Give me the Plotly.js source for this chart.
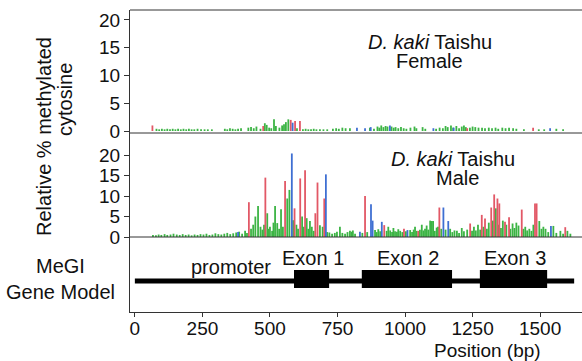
<!DOCTYPE html>
<html>
<head>
<meta charset="utf-8">
<script src="https://cdn.plot.ly/plotly-3.0.1.min.js"></script>
<style>html,body{margin:0;padding:0;background:#fff;}#chart{width:582px;height:361px;}</style>
</head>
<body>
<div id="chart"></div>
<script>
// ---- Data (positions in bp, values in relative % methylated cytosine) ----
const femaleGreenPos = [80,90,100,110,120,130,140,150,160,170,180,190,200,210,220,232,245,258,270,285,333,342,352,362,372,382,393,420,430,440,450,465,481,488,497,505,515,522,535,545,552,559,568,600,622,632,642,652,662,672,685,698,712,733,745,755,768,780,796,870,885,898,905,912,920,928,935,950,958,965,975,985,995,1005,1020,1035,1042,1065,1075,1115,1128,1140,1150,1158,1170,1178,1190,1200,1210,1218,1225,1240,1250,1260,1272,1285,1296,1310,1322,1335,1345,1360,1372,1385,1400,1412,1440,1495,1515,1560,1585];
const femaleGreenVal = [0.4,0.3,0.4,0.3,0.4,0.3,0.4,0.3,0.4,0.3,0.4,0.3,0.4,0.3,0.3,0.4,0.3,0.3,0.3,0.3,0.4,0.3,0.5,0.4,0.3,0.4,0.5,0.6,0.7,0.5,0.8,0.4,1.4,1.1,0.6,0.5,2.1,0.9,0.6,1.0,1.2,1.6,2.1,0.5,0.3,0.4,0.3,0.3,0.4,0.3,0.3,0.3,0.3,0.4,0.5,0.4,0.6,0.5,0.5,0.6,0.4,0.8,0.6,1.0,0.7,0.9,0.8,0.8,0.6,0.7,0.5,0.7,0.5,0.4,0.6,0.8,0.5,0.7,0.4,0.4,0.6,0.5,0.9,0.7,1.0,0.6,0.9,0.5,0.8,1.0,0.7,0.6,0.8,0.7,0.6,0.6,0.5,0.6,0.5,0.6,0.4,0.6,0.5,0.6,0.5,0.4,0.3,0.3,0.3,0.4,0.3];
const femaleRedPos = [65,475,577,593,611,1230,1474];
const femaleRedVal = [1.0,0.9,2.0,1.8,1.8,0.5,0.6];
const femaleBluePos = [584,822,852,873,944,1105,1180,1537];
const femaleBlueVal = [1.5,0.6,0.5,0.7,1.0,0.5,0.6,0.5];

const maleGreenPos = [67,78,88,98,110,120,132,143,155,166,177,188,199,210,221,232,243,254,265,276,287,298,309,320,331,342,353,364,375,386,397,408,415,430,438,446,456,465,472,478,490,495,500,508,513,519,527,534,541,548,564,572,586,598,604,619,625,636,642,648,655,662,685,695,712,720,730,740,748,759,768,778,787,796,802,807,815,842,860,889,895,901,908,932,938,945,952,957,963,970,975,982,990,1003,1019,1026,1032,1037,1043,1055,1062,1068,1074,1080,1086,1093,1099,1104,1110,1117,1122,1134,1150,1167,1175,1183,1192,1200,1210,1218,1230,1248,1255,1262,1270,1278,1290,1303,1310,1325,1336,1345,1355,1362,1375,1390,1398,1405,1412,1420,1438,1445,1452,1460,1468,1475,1497,1505,1512,1520,1530,1549,1560,1575,1585,1601,1612];
const maleGreenVal = [0.5,0.4,0.6,0.5,0.7,0.5,0.6,0.8,0.6,0.5,0.7,0.5,0.6,0.4,0.6,0.5,0.7,0.6,0.8,0.5,0.6,0.9,0.7,0.6,0.8,1.0,0.7,0.9,1.1,1.3,0.8,1.5,1.0,2.0,3.0,5.0,7.6,2.5,1.8,3.0,5.8,2.0,2.5,1.5,3.5,7.6,3.4,2.0,6.8,2.5,9.4,11.5,4.1,3.0,2.0,5.0,2.5,4.6,2.0,3.9,2.5,1.5,2.9,2.5,1.2,1.1,0.8,1.0,1.3,2.5,1.0,0.8,1.2,1.5,1.3,1.6,0.8,1.0,1.2,1.7,1.2,1.9,1.4,1.5,2.5,1.6,1.2,2.2,1.4,1.3,1.9,1.5,1.2,1.4,1.7,1.2,1.8,2.5,1.5,1.8,3.0,1.6,2.0,2.8,1.8,4.0,3.9,3.9,1.5,2.3,2.5,2.0,1.8,2.0,1.2,1.6,1.5,1.0,2.2,1.4,1.8,1.5,2.5,1.6,3.0,1.8,2.5,2.0,3.5,4.0,7.0,3.0,2.2,4.0,3.0,2.0,3.3,2.2,3.5,2.8,2.0,2.5,1.6,2.0,1.5,3.0,3.9,2.0,2.5,2.0,1.2,2.7,1.0,1.5,0.8,1.5,0.8];
const maleRedPos = [422,483,556,591,612,630,668,676,701,852,923,996,1049,1127,1241,1284,1296,1319,1330,1342,1349,1370,1385,1432,1481,1487,1593];
const maleRedVal = [8.5,14.5,13.7,7.0,14.3,16.3,5.8,13.3,9.4,10.0,2.9,2.0,1.5,7.2,3.3,5.4,4.5,7.2,10.4,9.4,8.2,3.7,4.8,6.7,8.2,8.2,2.4];
const maleBluePos = [382,581,707,833,874,880,914,1009,1142,1160,1540];
const maleBlueVal = [1.2,20.4,15.3,1.3,8.0,4.0,3.7,1.7,7.2,3.9,2.7];

// Gene model (bp)
const geneSpan = [0, 1626];
const exonStart = [589, 840, 1277];
const exonEnd = [719, 1174, 1526];
const exonLabels = ['Exon 1', 'Exon 2', 'Exon 3'];
const xTicks = [0, 250, 500, 750, 1000, 1250, 1500];
const yTicks = [0, 5, 10, 15, 20];

// ---- Styles ----
const RED = '#e25866', GREEN = '#3cb444', BLUE = '#3f6fd2';
const FONT = 'Liberation Sans, Arial, Helvetica, sans-serif';

// each cytosine drawn as a thin vertical bar (stick) from 0 to its value
function sticks(pos, val, color, yaxis) {
  const x = [], y = [];
  pos.forEach((p, i) => { x.push(p, p, null); y.push(0, val[i], null); });
  return {type: 'scatter', mode: 'lines', x: x, y: y, yaxis: yaxis, xaxis: 'x',
          line: {color: color, width: 1.8}, connectgaps: false,
          hoverinfo: 'skip', showlegend: false};
}

const traces = [
  sticks(femaleGreenPos, femaleGreenVal, GREEN, 'y'),
  sticks(femaleRedPos, femaleRedVal, RED, 'y'),
  sticks(femaleBluePos, femaleBlueVal, BLUE, 'y'),
  sticks(maleGreenPos, maleGreenVal, GREEN, 'y2'),
  sticks(maleRedPos, maleRedVal, RED, 'y2'),
  sticks(maleBluePos, maleBlueVal, BLUE, 'y2'),
  {type: 'scatter', mode: 'lines', x: geneSpan, y: [0.413, 0.413], xaxis: 'x', yaxis: 'y3',
   line: {color: '#000', width: 5}, hoverinfo: 'skip', showlegend: false}
];

// geometry (pixels) -> paper
const L = 130, T = 10, W = 452, H = 302;
const py = p => (T + H - p) / H;
const px = p => (p - L) / W;

const shapes = [];
for (let i = 0; i < exonStart.length; i++) {
  shapes.push({type: 'rect', xref: 'x', yref: 'y3', x0: exonStart[i], x1: exonEnd[i], y0: 0.32, y1: 0.56,
               fillcolor: '#000', line: {width: 0}});
}
[1, py(133), py(237)].forEach(v => shapes.push({type: 'line', xref: 'paper', yref: 'paper', x0: 0, x1: 1, y0: v, y1: v,
  line: {color: '#333', width: 1}}));

const ann = (text, x, y, extra) => Object.assign({text: text, x: x, y: y, xref: 'paper', yref: 'paper',
  showarrow: false, xanchor: 'center', yanchor: 'middle', font: {family: FONT, size: 20, color: '#111'}}, extra || {});

const annotations = [
  ann('<i>D. kaki</i> Taishu', px(430), py(42)),
  ann('Female', px(429), py(61)),
  ann('<i>D. kaki</i> Taishu', px(453), py(158.5)),
  ann('Male', px(457), py(177.5)),
  ann('Relative % methylated', px(44), py(137), {textangle: -90}),
  ann('cytosine', px(65), py(100), {textangle: -90}),
  ann('MeGI', px(60), py(266)),
  ann('Gene Model', px(60), py(292)),
  ann('promoter', 356, 0.6, {xref: 'x', yref: 'y3'}),
  ann('Position (bp)', px(487), py(351), {font: {family: FONT, size: 19, color: '#111'}})
];
for (let i = 0; i < exonLabels.length; i++) {
  annotations.push(ann(exonLabels[i], (exonStart[i] + exonEnd[i]) / 2 + 5, 0.72, {xref: 'x', yref: 'y3'}));
}

const yax = (domain, range) => ({domain: domain, range: range, tickvals: yTicks, ticks: 'outside', ticklen: 5,
  tickcolor: '#333', showline: true, linecolor: '#333', linewidth: 1, showgrid: false, zeroline: false,
  anchor: 'x', tickfont: {family: FONT, size: 19, color: '#111'}, fixedrange: true});

const layout = {
  width: 582, height: 361,
  margin: {l: L, r: 0, t: T, b: 361 - T - H, pad: 0},
  paper_bgcolor: '#fff', plot_bgcolor: '#fff',
  font: {family: FONT, size: 19, color: '#111'},
  xaxis: {range: [-18, 1655], tickvals: xTicks, ticks: 'outside', ticklen: 4, tickcolor: '#333',
          ticklabelstandoff: -5,
          showline: true, linecolor: '#333', linewidth: 1, showgrid: false, zeroline: false,
          anchor: 'y3', tickfont: {family: FONT, size: 19, color: '#111'}},
  yaxis: yax([py(133), 1], [-0.36, 21.8]),
  yaxis2: yax([py(237), py(133)], [0, 25.4]),
  yaxis3: {domain: [0, py(237)], range: [0, 1], showticklabels: false, ticks: '', showline: true,
           linecolor: '#333', linewidth: 1, showgrid: false, zeroline: false, anchor: 'x'},
  shapes: shapes,
  annotations: annotations
};

Plotly.newPlot('chart', traces, layout, {displayModeBar: false, staticPlot: true});
</script>
</body>
</html>
